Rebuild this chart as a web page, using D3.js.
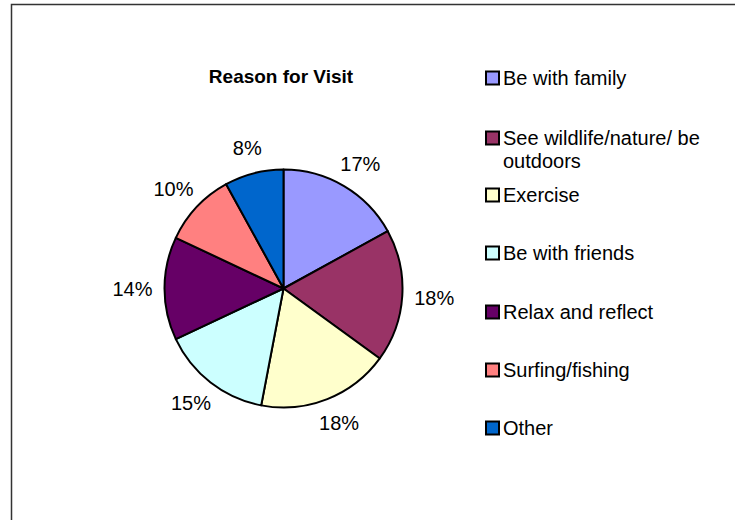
<!DOCTYPE html>
<html>
<head>
<meta charset="utf-8">
<script src="https://cdn.jsdelivr.net/npm/d3@7"></script>
<style>
  html, body { margin: 0; padding: 0; background: #fff; }
  svg { display: block; font-family: "Liberation Sans", Arial, sans-serif; }
</style>
</head>
<body>
<svg id="chart" width="735" height="520"></svg>
<script>
// Survey answers: why people visit
const categories = [
  "Be with family",
  "See wildlife/nature/ be outdoors",
  "Exercise",
  "Be with friends",
  "Relax and reflect",
  "Surfing/fishing",
  "Other"
];
const shares = [17, 18, 18, 15, 14, 10, 8];
const colors = ["#9999FF", "#993366", "#FFFFCC", "#CCFFFF", "#660066", "#FF8080", "#0066CC"];
// legend lines (long entries wrap onto two lines)
const legendLines = [
  ["Be with family"],
  ["See wildlife/nature/ be", "outdoors"],
  ["Exercise"],
  ["Be with friends"],
  ["Relax and reflect"],
  ["Surfing/fishing"],
  ["Other"]
];

const svg = d3.select("#chart");

// chart area frame
svg.append("rect")
  .attr("x", 11.5).attr("y", 4.5)
  .attr("width", 800).attr("height", 600)
  .attr("fill", "#fff")
  .attr("stroke", "#333").attr("stroke-width", 1.5);

svg.append("text")
  .attr("x", 281).attr("y", 83)
  .attr("text-anchor", "middle")
  .attr("font-size", 19).attr("font-weight", "bold")
  .text("Reason for Visit");

const cx = 283.5, cy = 288.5, R = 119;
const data = categories.map((c, i) => ({ name: c, value: shares[i], color: colors[i] }));

const pie = d3.pie().value(d => d.value).sort(null);
const arcs = pie(data);
const arc = d3.arc().innerRadius(0).outerRadius(R);
// anchor ring for the percentage labels, just outside the pie
const anchorArc = d3.arc().innerRadius(131).outerRadius(131);

const g = svg.append("g").attr("transform", `translate(${cx},${cy})`);

g.selectAll("path.slice")
  .data(arcs)
  .join("path")
  .attr("class", "slice")
  .attr("d", arc)
  .attr("fill", d => d.data.color)
  .attr("stroke", "#000")
  .attr("stroke-width", 2)
  .attr("stroke-linejoin", "round");

// outside-end labels: the label box (text plus padding) is pushed out
// from its anchor point in the direction of the slice's mid angle
const labelBoxH = 28;
g.selectAll("text.pct")
  .data(arcs)
  .join("text")
  .attr("class", "pct")
  .attr("text-anchor", "middle")
  .attr("dy", "0.35em")
  .attr("font-size", 20)
  .attr("fill", "#000")
  .text(d => d3.format(".0f")(d.data.value) + "%")
  .attr("transform", function(d) {
    const [ax, ay] = anchorArc.centroid(d);
    const mid = (d.startAngle + d.endAngle) / 2;
    const w = this.getComputedTextLength();
    const x = ax + Math.sin(mid) * w / 2;
    const y = ay - Math.cos(mid) * labelBoxH / 2;
    return `translate(${x},${y})`;
  });

// legend
const legendBaselines = [85, 145, 202, 260, 319, 377, 435];
const lg = svg.append("g");
data.forEach((d, i) => {
  const base = legendBaselines[i];
  lg.append("rect")
    .attr("x", 486).attr("y", base - 13.5)
    .attr("width", 13).attr("height", 13)
    .attr("fill", d.color)
    .attr("stroke", "#000").attr("stroke-width", 2);
  const t = lg.append("text")
    .attr("x", 503).attr("y", base)
    .attr("font-size", 20)
    .attr("fill", "#000");
  legendLines[i].forEach((line, k) => {
    t.append("tspan").attr("x", 503).attr("y", base + k * 23).text(line);
  });
});
</script>
</body>
</html>
